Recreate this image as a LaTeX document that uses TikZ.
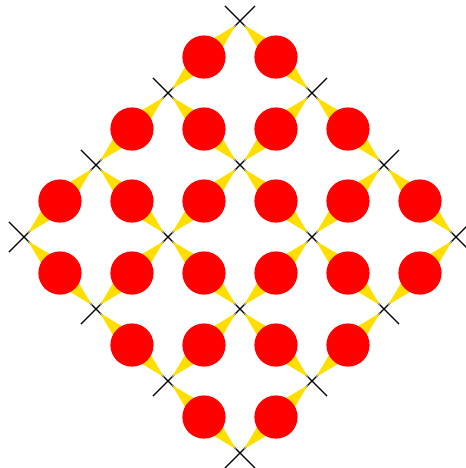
\documentclass[tikz,border=0pt]{standalone}
\usepackage{tikz}
\usepgflibrary{shapes}
\usetikzlibrary{calc}
\definecolor{spokeyellow}{RGB}{255,222,0}
\pgfdeclarelayer{back}
\pgfsetlayers{back,main}
\newcommand\Spoke[2]{%
  \begin{pgfonlayer}{back}
    \fill[spokeyellow] ($(#1)!0.8mm!(#2)$) -- ($(#2)!1.6mm!90:(#1)$) -- ($(#2)!1.6mm!-90:(#1)$) -- cycle;
  \end{pgfonlayer}}

\begin{document}
\begin{tikzpicture}[
    site/.style = {cross out, draw, line width=0.5pt, minimum size=4mm, inner sep=0pt},
    bead/.style = {circle, fill=red, minimum size=6mm, inner sep=0pt}
  ]
  \useasboundingbox (-3.333,-3.208) rectangle (3.139,3.292);
  % lattice sites (below the spokes)
  \begin{pgfonlayer}{back}
    \foreach \p in {0,...,3}{
      \foreach \q in {0,...,3}{
        \node[site] (s\p\q) at ({\p+\q-3},{\q-\p}) {};
      }
    }
  \end{pgfonlayer}
  % beads on the bonds
  \foreach \p in {0,...,3}{
    \foreach \q in {0,...,3}{
      \pgfmathtruncatemacro\pn{\p+1}
      \pgfmathtruncatemacro\qn{\q+1}
      \ifnum\p<3
        \node[bead] (a\p\q) at ($(s\p\q)!0.5!(s\pn\q)$) {};
        \Spoke{s\p\q}{a\p\q}
        \Spoke{s\pn\q}{a\p\q}
      \fi
      \ifnum\q<3
        \node[bead] (b\p\q) at ($(s\p\q)!0.5!(s\p\qn)$) {};
        \Spoke{s\p\q}{b\p\q}
        \Spoke{s\p\qn}{b\p\q}
      \fi
    }
  }
\end{tikzpicture}
\end{document}
